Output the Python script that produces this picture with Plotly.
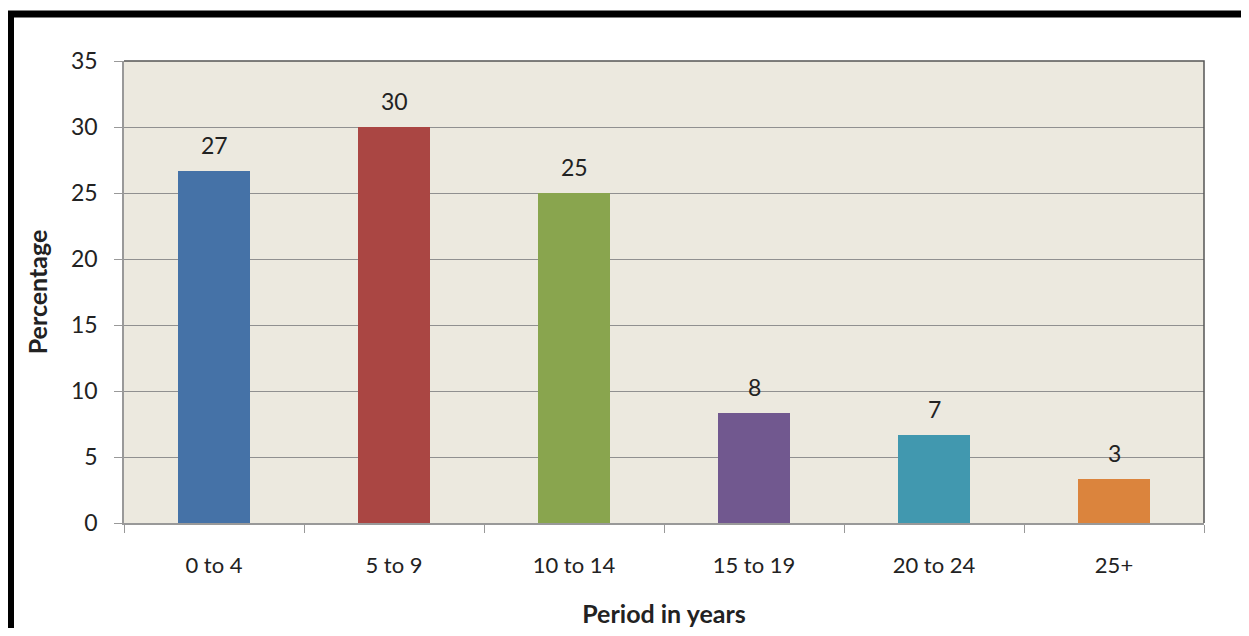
import plotly.graph_objects as go

categories = ["0 to 4", "5 to 9", "10 to 14", "15 to 19", "20 to 24", "25+"]
values = [26.67, 30.0, 25.0, 8.33, 6.67, 3.33]
labels = ["27", "30", "25", "8", "7", "3"]
colors = ["#4572A7", "#AA4643", "#89A54E", "#71588F", "#4198AF", "#DB843D"]
y_ticks = [0, 5, 10, 15, 20, 25, 30, 35]

# page body has an 8px margin; figure coords = screen coords - 8
OFF = 8
W, H = 1233, 620
ML, MR, MT, MB = 124 - OFF, 37, 61 - OFF, 105
pw, ph = W - ML - MR, H - MT - MB

def px(x):  # screen x -> paper
    return (x - OFF - ML) / pw

def py(y):  # screen y -> paper
    return (H - MB - (y - OFF)) / ph

fig = go.Figure()
fig.add_trace(go.Bar(
    x=categories, y=values,
    marker=dict(color=colors, line=dict(width=0)),
    hoverinfo="x+y", showlegend=False,
))

for c, v, t in zip(categories, values, labels):
    fig.add_annotation(x=c, y=v, text=t, showarrow=False, yanchor="bottom",
                       yshift=10, font=dict(family="Lato", size=23, color="#222"))

fig.add_shape(type="path",
              path=f"M {px(10.5)},{py(700)} L {px(10.5)},{py(14)} L {px(1300)},{py(14)}",
              xref="paper", yref="paper", line=dict(color="black", width=7))
fig.add_shape(type="path", path="M 0,1 L 1,1 L 1,0", xref="paper", yref="paper",
              line=dict(color="#555", width=1.5))

fig.update_layout(
    width=W, height=H,
    margin=dict(l=ML, r=MR, t=MT, b=MB),
    paper_bgcolor="white", plot_bgcolor="#ECE9DF",
    bargap=0.6,
    font=dict(family="Lato", color="#222"),
    xaxis=dict(
        tickson="boundaries", ticks="outside", ticklen=8, tickcolor="#999",
        showline=True, linecolor="#999", linewidth=1.5, showgrid=False,
        tickfont=dict(size=22, family="Lato"), ticklabelstandoff=22,
        title=dict(text="<b>Period in years</b>", font=dict(size=25, family="Lato"), standoff=41),
        automargin=False,
    ),
    yaxis=dict(
        range=[0, 35], tickvals=y_ticks, ticks="outside", ticklen=8, tickcolor="#999",
        showline=True, linecolor="#999", linewidth=1.5,
        showgrid=True, gridcolor="#909090", gridwidth=1.2, zeroline=False,
        tickfont=dict(size=23, family="Lato"), ticklabelstandoff=12,
        title=dict(text="<b>Percentage</b>", font=dict(size=25, family="Lato"), standoff=16),
        automargin=False,
    ),
)

fig.write_html("out.html")
